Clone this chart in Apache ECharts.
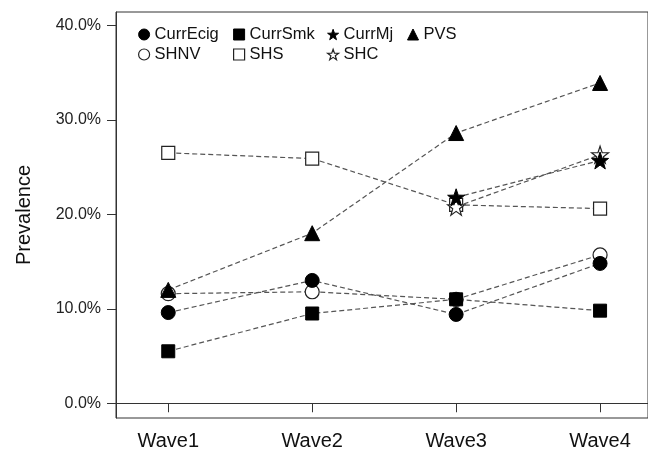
<!DOCTYPE html>
<html>
<head>
<meta charset="utf-8">
<script src="https://cdn.jsdelivr.net/npm/echarts@6/dist/echarts.min.js"></script>
<style>
html,body{margin:0;padding:0;background:#fff;}
#c{width:648px;height:454px;}
</style>
</head>
<body>
<div id="c"></div>
<script>
const categories = ['Wave1', 'Wave2', 'Wave3', 'Wave4'];
const currEcig = [9.6, 13.0, 9.4, 14.8];
const currSmk = [5.5, 9.5, 11.0, 9.8];
const currMj = [null, null, 21.8, 25.7];
const pvs = [12.0, 18.0, 28.6, 33.9];
const shnv = [11.6, 11.8, 11.0, 15.7];
const shs = [26.5, 25.9, 21.0, 20.6];
const shc = [null, null, 20.8, 26.3];
const yTicks = [0, 10, 20, 30, 40];

function starPath() {
  let pts = [];
  for (let k = 0; k < 10; k++) {
    const a = (-90 + k * 36) * Math.PI / 180;
    const r = (k % 2 === 0) ? 50 : 20;
    pts.push([(50 + r * Math.cos(a)).toFixed(2), (50 + r * Math.sin(a)).toFixed(2)]);
  }
  return 'path://M' + pts.map(p => p[0] + ',' + p[1]).join('L') + 'Z';
}
const STAR = starPath();
const FONT = 'Liberation Sans, Arial, Helvetica, sans-serif';

const toData = arr => arr.map((v, i) => [i + 1, v]);

const filled = {color: '#000', borderColor: '#000', borderWidth: 1};
const open = {color: '#fff', borderColor: '#222', borderWidth: 1.2};

const defs = [
  {name: 'SHNV', data: shnv, symbol: 'circle', size: 14, style: open},
  {name: 'SHS', data: shs, symbol: 'rect', size: 13, style: open},
  {name: 'SHC', data: shc, symbol: STAR, size: 17, style: open},
  {name: 'CurrEcig', data: currEcig, symbol: 'circle', size: 14, style: filled},
  {name: 'CurrSmk', data: currSmk, symbol: 'rect', size: 13, style: filled},
  {name: 'CurrMj', data: currMj, symbol: STAR, size: 17, style: filled},
  {name: 'PVS', data: pvs, symbol: 'triangle', size: 15, style: filled}
];

const series = defs.map(d => ({
  name: d.name,
  type: 'line',
  data: toData(d.data),
  symbol: d.symbol,
  symbolSize: d.size,
  showAllSymbol: true,
  itemStyle: d.style,
  lineStyle: {color: '#555', width: 1.2, type: [5, 3]},
  emphasis: {disabled: true},
  animation: false
}));

const legendIcon = {};
defs.forEach(d => legendIcon[d.name] = d);

function legendCol(names, left) {
  return {
    orient: 'vertical',
    left: left,
    top: 26,
    padding: 0,
    itemGap: 3,
    itemWidth: 11,
    itemHeight: 11,
    selectedMode: false,
    textStyle: {fontFamily: FONT, fontSize: 16.5, color: '#111', lineHeight: 16},
    data: names.map(n => ({
      name: n,
      icon: legendIcon[n].symbol,
      itemStyle: legendIcon[n].style
    }))
  };
}

const chart = echarts.init(document.getElementById('c'), null, {renderer: 'canvas'});
chart.setOption({
  animation: false,
  backgroundColor: '#fff',
  grid: {left: 116, right: 0, top: 12, bottom: 36, show: true, borderColor: '#333', borderWidth: 1, backgroundColor: 'transparent'},
  legend: [
    legendCol(['CurrEcig', 'SHNV'], 138),
    legendCol(['CurrSmk', 'SHS'], 233),
    legendCol(['CurrMj', 'SHC'], 327),
    legendCol(['PVS'], 407)
  ],
  xAxis: {
    type: 'value',
    min: 0.637,
    max: 4.333,
    splitLine: {show: false},
    axisLine: {show: true, lineStyle: {color: '#333', width: 1}},
    axisTick: {show: true, length: 9, customValues: [1, 2, 3, 4], lineStyle: {color: '#333'}},
    axisLabel: {
      customValues: [1, 2, 3, 4],
      formatter: v => categories[Math.round(v) - 1],
      fontFamily: FONT, fontSize: 20, color: '#111', margin: 13
    }
  },
  yAxis: {
    type: 'value',
    min: -1.56,
    max: 41.41,
    name: 'Prevalence',
    nameLocation: 'middle',
    nameGap: 82,
    nameTextStyle: {fontFamily: FONT, fontSize: 20, color: '#111'},
    splitLine: {show: false},
    axisLine: {show: true, lineStyle: {color: '#333', width: 1}},
    axisTick: {show: true, length: 9, customValues: yTicks, lineStyle: {color: '#333'}},
    axisLabel: {
      customValues: yTicks,
      formatter: v => v.toFixed(1) + '%',
      fontFamily: FONT, fontSize: 16, color: '#222', margin: 15
    }
  },
  series: series
});
</script>
</body>
</html>
